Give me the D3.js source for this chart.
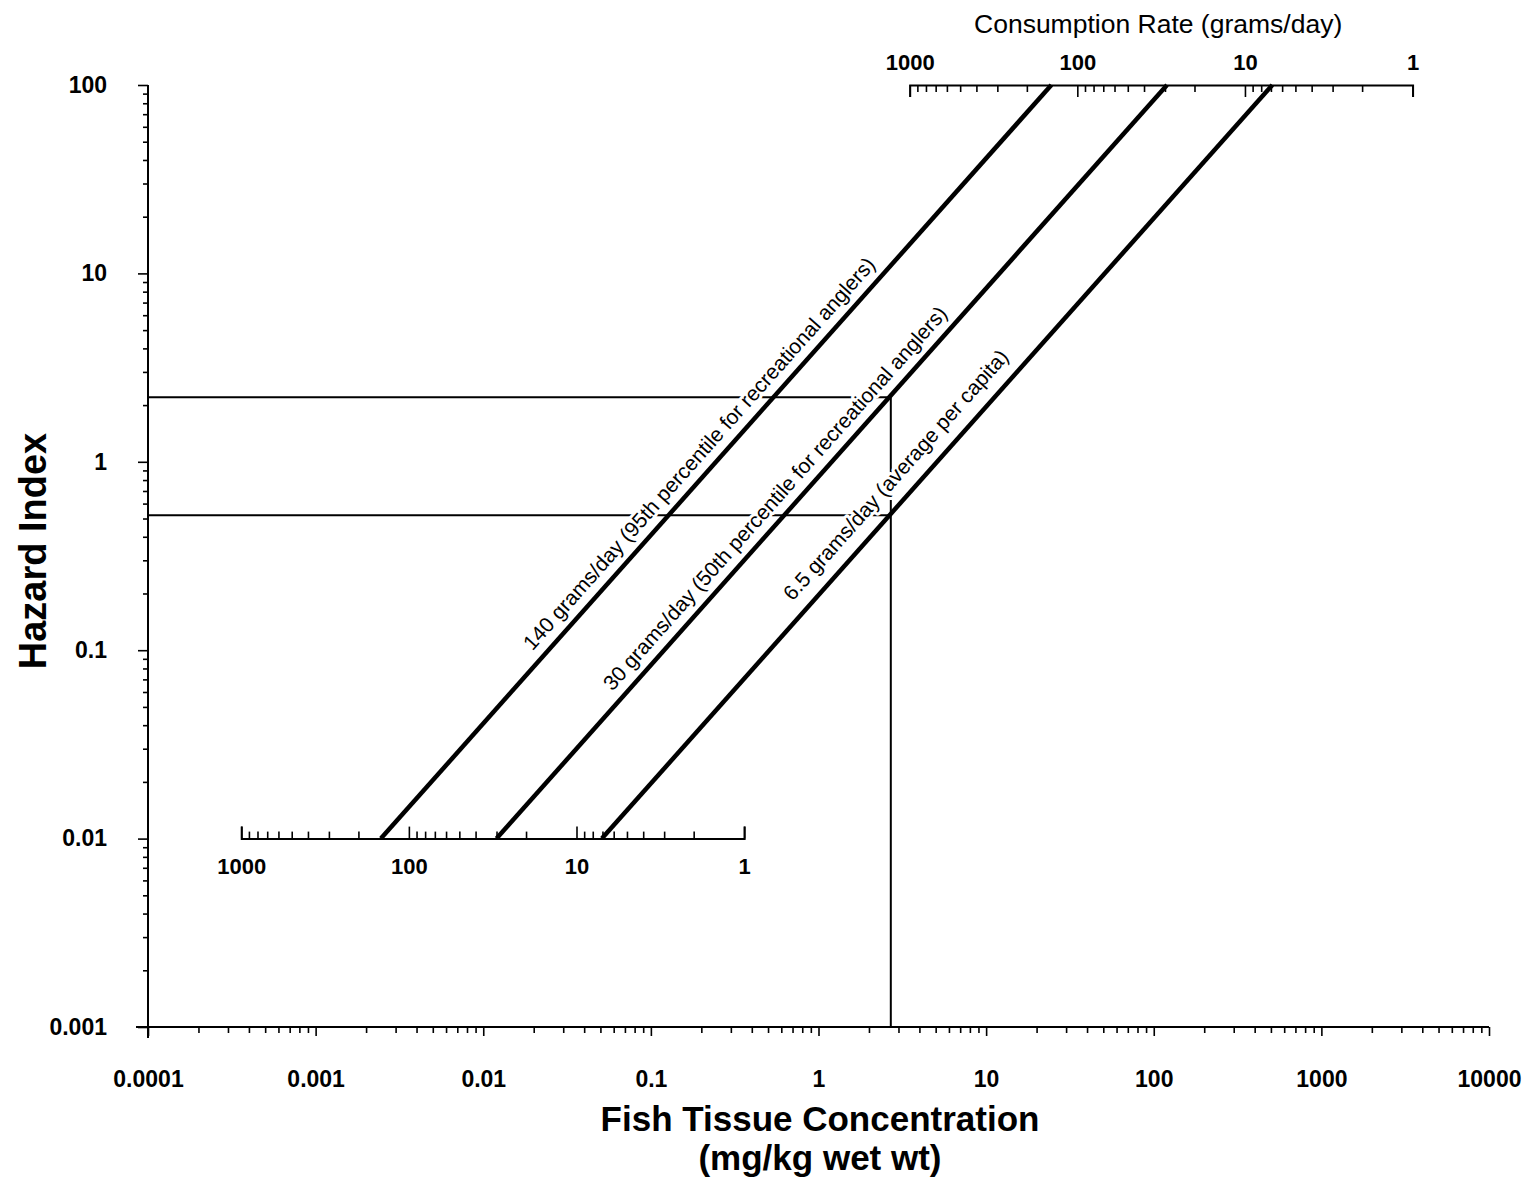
<!DOCTYPE html>
<html>
<head>
<meta charset="utf-8">
<script src="https://cdn.jsdelivr.net/npm/d3@7"></script>
<style>
  html, body { margin: 0; padding: 0; background: #fff; }
  svg { display: block; }
</style>
</head>
<body>
<svg id="chart" width="1529" height="1185"></svg>
<script>
// ---------------- data ----------------
const concDomain = [0.0001, 10000];
const hiDomain = [0.001, 100];
const concTicks = [0.0001, 0.001, 0.01, 0.1, 1, 10, 100, 1000, 10000];
const concTickLabels = ["0.0001", "0.001", "0.01", "0.1", "1", "10", "100", "1000", "10000"];
const hiTicks = [0.001, 0.01, 0.1, 1, 10, 100];
const hiTickLabels = ["0.001", "0.01", "0.1", "1", "10", "100"];
const rateDomain = [1000, 1];
const rateTicks = [1000, 100, 10, 1];
const rateTickLabels = ["1000", "100", "10", "1"];
const rateTitle = "Consumption Rate (grams/day)";

const seriesNames = [
  "140 grams/day (95th percentile for recreational anglers)",
  "30 grams/day (50th percentile for recreational anglers)",
  "6.5 grams/day (average per capita)"
];
// endpoints of each consumption-rate line: concentration (mg/kg) and hazard index
const seriesConc = [[0.00245, 24.5], [0.012, 120], [0.051, 510]];
const seriesHI = [[0.01, 100], [0.01, 100], [0.01, 100]];
// hazard index at which each line label starts
const labelHI = [0.09, 0.055, 0.16];

// inset consumption-rate axes: concentration under rate 1000 and rate 1
const bottomRateConc = [0.00036, 0.36];
const bottomRateHI = 0.01;
const topRateConc = [3.5, 3500];
const topRateHI = 100;

// example read-off: concentration and hazard indices
const refConc = 2.7;
const refHI = [2.2, 0.52];

const xTitle = ["Fish Tissue Concentration", "(mg/kg wet wt)"];
const yTitle = "Hazard Index";

// ---------------- drawing ----------------
const FONT = "'Liberation Sans', Arial, Helvetica, sans-serif";
const svg = d3.select("#chart");

const x = d3.scaleLog().domain(concDomain).range([148, 1489]);
const y = d3.scaleLog().domain(hiDomain).range([1027, 85]);

function minorOf(majors) {
  const out = [];
  for (let i = 0; i < majors.length - 1; i++) {
    const lo = Math.min(majors[i], majors[i + 1]);
    for (let k = 2; k < 10; k++) out.push(lo * k);
  }
  return out;
}

function styleAxis(g, fontSize, weight) {
  g.attr("font-family", FONT).attr("font-size", fontSize).attr("font-weight", weight);
  g.selectAll(".tick line").attr("stroke", "#000").attr("stroke-width", 1.6);
  g.selectAll(".tick text").attr("fill", "#000");
  g.select(".domain").attr("stroke", "#000").attr("stroke-width", 2).attr("fill", "none");
}

// main y axis
svg.append("g").attr("transform", "translate(148,0)")
  .call(d3.axisLeft(y).tickValues(minorOf(hiTicks)).tickSize(5).tickFormat(""))
  .call(g => { g.select(".domain").remove(); styleAxis(g, 10, "normal"); });
svg.append("g").attr("transform", "translate(148,0)")
  .call(d3.axisLeft(y).tickValues(hiTicks).tickSize(10).tickPadding(31)
        .tickFormat((d, i) => hiTickLabels[i]))
  .call(g => { g.select(".domain").remove(); styleAxis(g, 23, "bold"); });

// main x axis
svg.append("g").attr("transform", "translate(0,1027)")
  .call(d3.axisBottom(x).tickValues(minorOf(concTicks)).tickSize(6).tickFormat(""))
  .call(g => { g.select(".domain").remove(); styleAxis(g, 10, "normal"); });
svg.append("g").attr("transform", "translate(0,1027)")
  .call(d3.axisBottom(x).tickValues(concTicks).tickSize(9).tickPadding(35)
        .tickFormat((d, i) => concTickLabels[i]))
  .call(g => { g.select(".domain").remove(); styleAxis(g, 23, "bold"); });

// axis lines
svg.append("line").attr("x1", x(concDomain[0])).attr("x2", x(concDomain[0]))
  .attr("y1", y(hiDomain[1])).attr("y2", y(hiDomain[0]) + 11)
  .attr("stroke", "#000").attr("stroke-width", 2);
svg.append("line").attr("x1", x(concDomain[0]) - 12).attr("x2", x(concDomain[1]))
  .attr("y1", y(hiDomain[0])).attr("y2", y(hiDomain[0]))
  .attr("stroke", "#000").attr("stroke-width", 2.2);

// inset consumption-rate axes
const rateBottom = d3.scaleLog().domain(rateDomain)
  .range([x(bottomRateConc[0]), x(bottomRateConc[1])]);
const rateTop = d3.scaleLog().domain(rateDomain)
  .range([x(topRateConc[0]), x(topRateConc[1])]);

svg.append("g").attr("transform", `translate(0,${y(bottomRateHI)})`)
  .call(d3.axisBottom(rateBottom).tickValues(minorOf(rateTicks)).tickSize(-7).tickFormat(""))
  .call(g => { g.select(".domain").remove(); styleAxis(g, 10, "normal"); });
svg.append("g").attr("transform", `translate(0,${y(bottomRateHI)})`)
  .call(d3.axisBottom(rateBottom).tickValues(rateTicks).tickSize(-12).tickSizeOuter(-12)
        .tickPadding(20).tickFormat((d, i) => rateTickLabels[i]))
  .call(g => styleAxis(g, 22, "bold"));

svg.append("g").attr("transform", `translate(0,${y(topRateHI)})`)
  .call(d3.axisTop(rateTop).tickValues(minorOf(rateTicks)).tickSize(-7).tickFormat(""))
  .call(g => { g.select(".domain").remove(); styleAxis(g, 10, "normal"); });
svg.append("g").attr("transform", `translate(0,${y(topRateHI)})`)
  .call(d3.axisTop(rateTop).tickValues(rateTicks).tickSize(-12).tickSizeOuter(-12)
        .tickPadding(15).tickFormat((d, i) => rateTickLabels[i]))
  .call(g => styleAxis(g, 22, "bold"));

svg.append("text")
  .attr("x", (rateTop(rateDomain[0]) + rateTop(rateDomain[1])) / 2 - 3)
  .attr("y", 33)
  .attr("text-anchor", "middle")
  .attr("font-family", FONT).attr("font-size", 26.5)
  .text(rateTitle);

// read-off reference lines
refHI.forEach(h => {
  svg.append("line")
    .attr("x1", x(concDomain[0])).attr("x2", x(refConc))
    .attr("y1", y(h)).attr("y2", y(h))
    .attr("stroke", "#000").attr("stroke-width", 2);
});
svg.append("line")
  .attr("x1", x(refConc)).attr("x2", x(refConc))
  .attr("y1", y(d3.max(refHI))).attr("y2", y(hiDomain[0]))
  .attr("stroke", "#000").attr("stroke-width", 2);

// line labels (with white halo)
const labelOffset = [11, 11, 15];
seriesNames.forEach((name, i) => {
  const c = seriesConc[i], h = seriesHI[i];
  const t = (Math.log(labelHI[i]) - Math.log(h[0])) / (Math.log(h[1]) - Math.log(h[0]));
  const cc = Math.exp(Math.log(c[0]) + t * (Math.log(c[1]) - Math.log(c[0])));
  const px = x(cc), py = y(labelHI[i]);
  const ang = Math.atan2(y(h[1]) - y(h[0]), x(c[1]) - x(c[0])) * 180 / Math.PI;
  svg.append("text")
    .attr("transform", `translate(${px},${py}) rotate(${ang})`)
    .attr("dy", -labelOffset[i])
    .attr("font-family", FONT).attr("font-size", 21)
    .attr("fill", "#000")
    .attr("stroke", "#fff").attr("stroke-width", 6)
    .attr("stroke-linejoin", "round")
    .attr("paint-order", "stroke")
    .text(name);
});

// consumption-rate lines
const line = d3.line().x(d => x(d[0])).y(d => y(d[1]));
seriesNames.forEach((name, i) => {
  const pts = seriesConc[i].map((c, j) => [c, seriesHI[i][j]]);
  svg.append("path").datum(pts)
    .attr("d", line)
    .attr("fill", "none").attr("stroke", "#000").attr("stroke-width", 4.5);
});

// titles
xTitle.forEach((t, i) => {
  svg.append("text")
    .attr("x", 820).attr("y", 1131 + i * 39)
    .attr("text-anchor", "middle")
    .attr("font-family", FONT).attr("font-size", 35).attr("font-weight", "bold")
    .text(t);
});

svg.append("text")
  .attr("transform", "translate(46,551) rotate(-90)")
  .attr("text-anchor", "middle")
  .attr("font-family", FONT).attr("font-size", 38).attr("font-weight", "bold")
  .text(yTitle);
</script>
</body>
</html>
